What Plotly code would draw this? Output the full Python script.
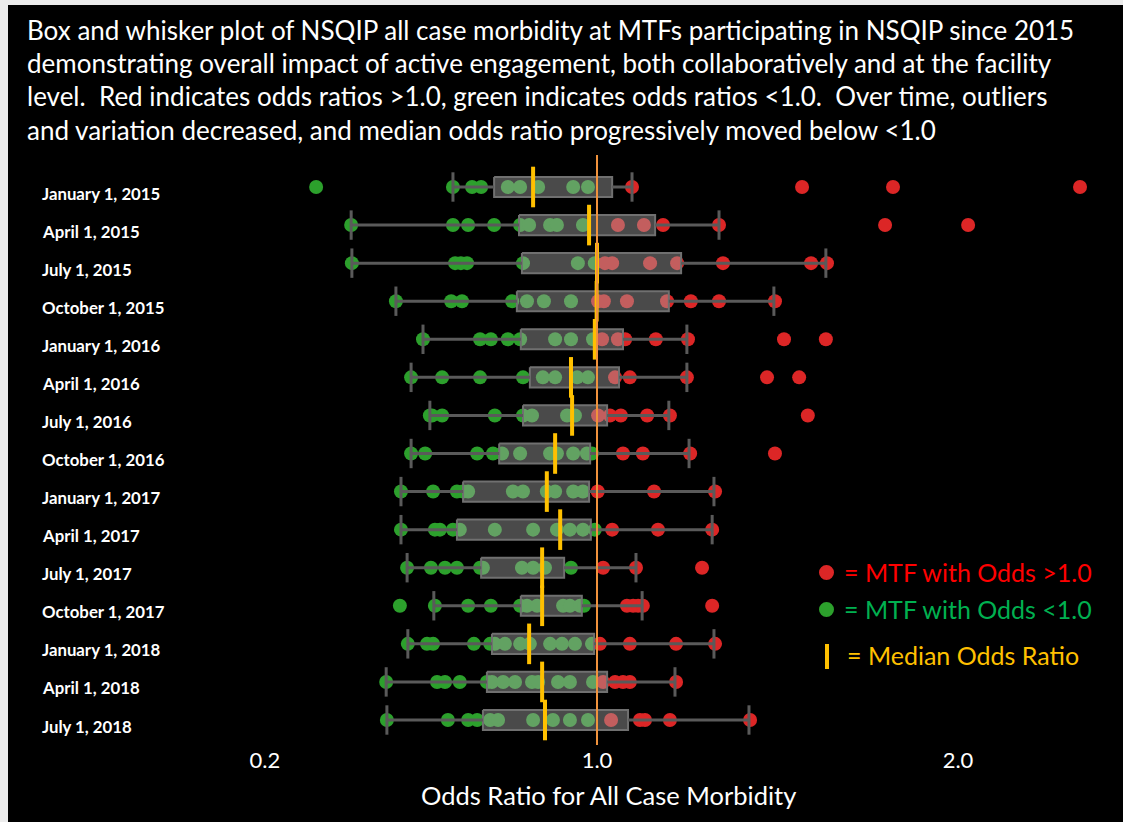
import plotly.graph_objects as go

# ---------------- data ----------------
QUARTERS = ["January 1, 2015", "April 1, 2015", "July 1, 2015", "October 1, 2015",
            "January 1, 2016", "April 1, 2016", "July 1, 2016", "October 1, 2016",
            "January 1, 2017", "April 1, 2017", "July 1, 2017", "October 1, 2017",
            "January 1, 2018", "April 1, 2018", "July 1, 2018"]

GREEN_ODDS = [
    [0.222, 0.601, 0.654, 0.679, 0.753, 0.787, 0.837, 0.934, 0.975],
    [0.319, 0.601, 0.643, 0.715, 0.787, 0.812, 0.870, 0.889, 0.961],
    [0.321, 0.607, 0.623, 0.640, 0.795, 0.947, 0.994],
    [0.443, 0.596, 0.626, 0.765, 0.806, 0.853, 0.928],
    [0.518, 0.676, 0.706, 0.753, 0.787, 0.884, 0.928, 0.989],
    [0.485, 0.571, 0.676, 0.795, 0.850, 0.884, 0.945, 0.975],
    [0.537, 0.543, 0.571, 0.717, 0.795, 0.820, 0.917, 0.939],
    [0.485, 0.524, 0.668, 0.712, 0.737, 0.787, 0.870, 0.889, 0.934, 0.972, 0.986],
    [0.457, 0.546, 0.612, 0.629, 0.643, 0.767, 0.795, 0.861, 0.884, 0.934, 0.961],
    [0.457, 0.551, 0.565, 0.601, 0.620, 0.717, 0.823, 0.889, 0.925, 0.961, 0.994],
    [0.474, 0.540, 0.579, 0.612, 0.676, 0.684, 0.792, 0.823, 0.856, 0.928],
    [0.454, 0.551, 0.643, 0.706, 0.787, 0.806, 0.834, 0.906, 0.925, 0.953, 0.964],
    [0.476, 0.529, 0.546, 0.659, 0.704, 0.717, 0.745, 0.787, 0.814, 0.870, 0.903, 0.939, 0.986],
    [0.416, 0.557, 0.579, 0.620, 0.695, 0.709, 0.740, 0.773, 0.820, 0.837, 0.892, 0.925, 0.989],
    [0.418, 0.587, 0.643, 0.668, 0.704, 0.726, 0.823, 0.878, 0.925, 0.975],
]

RED_ODDS = [
    [1.097, 1.568, 1.820, 2.338],
    [1.058, 1.130, 1.183, 1.338, 1.798, 2.028],
    [1.022, 1.042, 1.147, 1.222, 1.349, 1.593, 1.637],
    [1.003, 1.019, 1.083, 1.194, 1.260, 1.338, 1.493],
    [1.014, 1.058, 1.078, 1.163, 1.252, 1.518, 1.634],
    [1.050, 1.091, 1.249, 1.471, 1.560],
    [1.003, 1.036, 1.066, 1.139, 1.202, 1.584],
    [1.072, 1.127, 1.258, 1.493],
    [1.002, 1.158, 1.327],
    [1.042, 1.169, 1.319],
    [1.017, 1.108, 1.291],
    [1.083, 1.100, 1.114, 1.127, 1.319],
    [1.008, 1.091, 1.219, 1.327],
    [1.017, 1.050, 1.072, 1.091, 1.219],
    [1.039, 1.119, 1.133, 1.202, 1.424],
]

WHISKER_LOW = [0.601, 0.319, 0.321, 0.443, 0.518, 0.485, 0.537, 0.485, 0.457, 0.457, 0.474, 0.548, 0.476, 0.416, 0.418]
Q1 = [0.715, 0.784, 0.792, 0.778, 0.789, 0.814, 0.795, 0.729, 0.629, 0.612, 0.679, 0.789, 0.709, 0.695, 0.684]
MEDIAN = [0.823, 0.978, 1.000, 0.999, 0.994, 0.928, 0.931, 0.884, 0.861, 0.898, 0.848, 0.848, 0.812, 0.848, 0.856]
Q3 = [1.042, 1.161, 1.233, 1.199, 1.072, 1.061, 1.028, 0.981, 0.978, 0.983, 0.909, 0.958, 0.992, 1.028, 1.086]
WHISKER_HIGH = [1.097, 1.338, 1.634, 1.490, 1.249, 1.249, 1.199, 1.255, 1.324, 1.319, 1.108, 1.125, 1.324, 1.216, 1.421]

REFERENCE_ODDS = 1.0
TICK_VALUES = [0.08, 1.0, 2.0]
TICK_TEXT = ["0.2", "1.0", "2.0"]

TITLE_LINES = [
    "Box and whisker plot of NSQIP all case morbidity at MTFs participating in NSQIP since 2015",
    "demonstrating overall impact of active engagement, both collaboratively and at the facility",
    "level.  Red indicates odds ratios >1.0, green indicates odds ratios <1.0.  Over time, outliers",
    "and variation decreased, and median odds ratio progressively moved below <1.0",
]
X_TITLE = "Odds Ratio for All Case Morbidity"
LEGEND_TEXT = ["= MTF with Odds >1.0", "= MTF with Odds <1.0", "= Median Odds Ratio"]

# ---------------- layout geometry ----------------
W, H = 1123, 822
ML, MR, MT, MB = 236, 21, 155, 77
PW, PH = W - ML - MR, H - MT - MB
PX_ONE, PX_PER_UNIT = 597, 361.0
ROW0_PX, ROW_STEP = 187, (720 - 187) / 14.0

x_range = [1 + (ML - PX_ONE) / PX_PER_UNIT, 1 + (W - MR - PX_ONE) / PX_PER_UNIT]
y_range = [14 + (H - MB - 720) / ROW_STEP, -(ROW0_PX - MT) / ROW_STEP]


def xp(px):
    return (px - ML) / PW


def yp(py):
    return (H - MB - py) / PH


FONT = "Lato"
GREEN = "#2CA02C"
RED = "#DC2626"
GOLD = "#FFC000"
GREY = "#5A5A5A"
BOX_HALF = 0.265

rows = list(range(len(QUARTERS)))

gx, gy, rx, ry = [], [], [], []
for i in rows:
    gx += GREEN_ODDS[i]
    gy += [i] * len(GREEN_ODDS[i])
    rx += RED_ODDS[i]
    ry += [i] * len(RED_ODDS[i])

bx, by, wx, wy = [], [], [], []
for i in rows:
    bx += [Q1[i], Q3[i], Q3[i], Q1[i], Q1[i], None]
    by += [i - BOX_HALF, i - BOX_HALF, i + BOX_HALF, i + BOX_HALF, i - BOX_HALF, None]
    wx += [WHISKER_LOW[i], Q1[i], None, Q3[i], WHISKER_HIGH[i], None]
    wy += [i, i, None, i, i, None]

fig = go.Figure()
fig.add_trace(go.Scatter(x=gx, y=gy, mode="markers", marker=dict(color=GREEN, size=14, line=dict(width=0)),
                         hoverinfo="x"))
fig.add_trace(go.Scatter(x=rx, y=ry, mode="markers", marker=dict(color=RED, size=14, line=dict(width=0)),
                         hoverinfo="x"))
fig.add_trace(go.Scatter(x=bx, y=by, mode="lines", fill="toself", fillcolor="rgba(165,165,165,0.45)",
                         line=dict(color="#707070", width=2), hoverinfo="skip"))
fig.add_trace(go.Scatter(x=wx, y=wy, mode="lines", line=dict(color=GREY, width=3), hoverinfo="skip"))
fig.add_trace(go.Scatter(x=WHISKER_LOW + WHISKER_HIGH, y=rows + rows, mode="markers",
                         marker=dict(symbol="line-ns", size=21, line=dict(color=GREY, width=3)),
                         hoverinfo="skip"))
fig.add_trace(go.Scatter(x=MEDIAN, y=rows, mode="markers",
                         marker=dict(symbol="line-ns", size=29, line=dict(color=GOLD, width=4)),
                         hoverinfo="x"))

shapes = [
    dict(type="line", xref="x", yref="paper", x0=REFERENCE_ODDS, x1=REFERENCE_ODDS, y0=0, y1=1,
         line=dict(color="#F0923C", width=2), layer="above"),
    # thin light page edge (left / top)
    dict(type="rect", xref="paper", yref="paper", x0=xp(0), x1=xp(8), y0=yp(H), y1=yp(0),
         fillcolor="#ECECEC", line=dict(width=0), layer="above"),
    dict(type="rect", xref="paper", yref="paper", x0=xp(0), x1=xp(W), y0=yp(5), y1=yp(0),
         fillcolor="#ECECEC", line=dict(width=0), layer="above"),
    # legend glyphs
    dict(type="circle", xref="paper", yref="paper", x0=xp(819), x1=xp(834), y0=yp(580), y1=yp(565),
         fillcolor=RED, line=dict(width=0), layer="above"),
    dict(type="circle", xref="paper", yref="paper", x0=xp(819), x1=xp(834), y0=yp(617), y1=yp(602),
         fillcolor=GREEN, line=dict(width=0), layer="above"),
    dict(type="line", xref="paper", yref="paper", x0=xp(827), x1=xp(827), y0=yp(644), y1=yp(669),
         line=dict(color=GOLD, width=4), layer="above"),
]

annotations = []
for k, line in enumerate(TITLE_LINES):
    annotations.append(dict(text=line, xref="paper", yref="paper", x=xp(25), y=yp(29.5 + 33.5 * k),
                            xanchor="left", yanchor="middle", showarrow=False,
                            font=dict(family=FONT, size=26, color="white")))
for i, q in enumerate(QUARTERS):
    annotations.append(dict(text="<b>%s</b>" % q, xref="paper", yref="y", x=xp(40), y=i, yshift=-6,
                            xanchor="left", yanchor="middle", showarrow=False,
                            font=dict(family=FONT, size=16.8, color="white")))
annotations.append(dict(text=X_TITLE, xref="paper", yref="paper", x=xp(PX_ONE + 11), y=yp(795),
                        xanchor="center", yanchor="middle", showarrow=False,
                        font=dict(family=FONT, size=25.5, color="white")))
legend_colors = ["#FF0000", "#00B050", GOLD]
legend_x = [842, 842, 845]
legend_y = [572, 609, 655]
for t, c, lx, ly in zip(LEGEND_TEXT, legend_colors, legend_x, legend_y):
    annotations.append(dict(text=t, xref="paper", yref="paper", x=xp(lx), y=yp(ly),
                            xanchor="left", yanchor="middle", showarrow=False,
                            font=dict(family=FONT, size=25, color=c)))

fig.update_layout(
    width=W, height=H,
    margin=dict(l=ML, r=MR, t=MT, b=MB, pad=0),
    paper_bgcolor="black", plot_bgcolor="black",
    showlegend=False,
    shapes=shapes, annotations=annotations,
    xaxis=dict(range=x_range, tickvals=TICK_VALUES, ticktext=TICK_TEXT, showgrid=False, zeroline=False,
               showline=False, ticks="", tickfont=dict(family=FONT, size=22, color="white"), fixedrange=True),
    yaxis=dict(range=y_range, showticklabels=False, showgrid=False, zeroline=False, showline=False,
               ticks="", fixedrange=True),
)

fig.write_html("out.html", config={"displayModeBar": False},
               post_script="document.body.style.margin='0';document.body.style.overflow='hidden';")
